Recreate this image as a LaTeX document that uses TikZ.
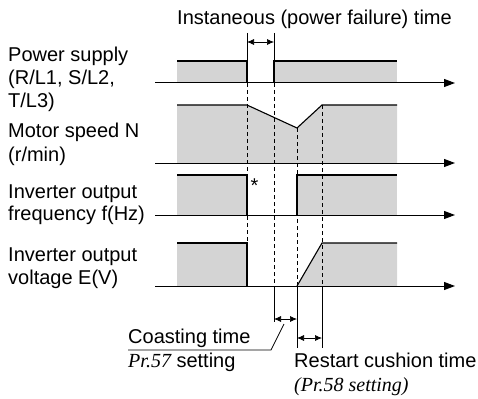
\documentclass[tikz,border=0pt]{standalone}
\usepackage{fontspec}
\setmainfont{Liberation Sans}
\newfontfamily\tnr{Liberation Serif}
\usetikzlibrary{arrows.meta}
\definecolor{fillgray}{RGB}{212,212,212}
\begin{document}
\begin{tikzpicture}[x=1pt,y=-1pt,
  lbl/.style={anchor=base west,inner sep=0pt,font=\fontsize{20}{23}\selectfont},
  sig/.style={line width=1.1pt},
  axisline/.style={line width=1pt,-{Triangle[length=11pt,width=8pt]}},
  guide/.style={line width=0.7pt,dash pattern=on 4pt off 3pt},
  thinline/.style={line width=0.7pt},
  dimarrow/.style={line width=0.7pt,{Latex[length=7pt,width=6pt]}-{Latex[length=7pt,width=6pt]}},
  box/.style={fill=fillgray}]
\useasboundingbox (0,0) rectangle (478,398);

% ---- fills
\fill[box] (177,61) rectangle (247,83);
\fill[box] (274,61) rectangle (397,83);
\fill[box] (177,105) -- (247,105) -- (297,128) -- (322,105) -- (397,105) -- (397,163) -- (177,163) -- cycle;
\fill[box] (177,175) rectangle (247,215);
\fill[box] (297,175) rectangle (397,215);
\fill[box] (177,243) rectangle (247,286);
\fill[box] (297,286) -- (322,243) -- (397,243) -- (397,286) -- cycle;

% ---- key time coordinates
\coordinate (t1a) at (247,83);  \coordinate (t1b) at (247,243);
\coordinate (t2a) at (274,83);  \coordinate (t2b) at (274,286); \coordinate (t2c) at (274,322);
\coordinate (t3a) at (297,128); \coordinate (t3b) at (297,286); \coordinate (t3c) at (297,348);
\coordinate (t4a) at (322,105); \coordinate (t4b) at (322,286); \coordinate (t4c) at (322,348);

% ---- dashed guides
\draw[guide] (t1a) -- (t1b);
\draw[guide] (t2a) -- (t2b);
\draw[guide] (t3a) -- (t3b);
\draw[guide] (t4a) -- (t4b);

% ---- signals
\draw[sig] (177,61) -- (247,61) -- (247,83);
\draw[sig] (274,83) -- (274,61) -- (397,61);
\draw[sig] (177,105) -- (247,105) -- (t3a) -- (t4a) -- (397,105);
\draw[sig] (177,175) -- (247,175) -- (247,215);
\draw[sig] (297,215) -- (297,175) -- (397,175);
\draw[sig] (177,243) -- (247,243) -- (247,286);
\draw[sig] (t3b) -- (322,243) -- (397,243);

% ---- axes
\coordinate (a0) at (155,83);  \coordinate (a1) at (455,83);
\coordinate (b0) at (155,163); \coordinate (b1) at (455,163);
\coordinate (c0) at (155,215); \coordinate (c1) at (455,215);
\coordinate (d0) at (155,286); \coordinate (d1) at (455,286);
\draw[axisline] (a0) -- (a1);
\draw[axisline] (b0) -- (b1);
\draw[axisline] (c0) -- (c1);
\draw[axisline] (d0) -- (d1);

% ---- dimension lines
\coordinate (p1) at (247,33); \coordinate (p2) at (274,33);
\draw[thinline] (p1) -- (247,61);
\draw[thinline] (p2) -- (274,61);
\draw[dimarrow] (247,42) -- (274,42);
\draw[thinline] (t2b) -- (t2c);
\draw[thinline] (t3b) -- (t3c);
\draw[thinline] (t4b) -- (t4c);
\draw[dimarrow] (274,319) -- (297,319);
\draw[dimarrow] (297,338) -- (322,338);
\coordinate (l0) at (284,324); \coordinate (l1) at (271,350); \coordinate (l2) at (128,350);
\draw[thinline] (l0) -- (l1) -- (l2);

% ---- texts
\node[lbl] (title) at (177,25) {Instaneous (power failure) time};
\node[lbl] (ps1) at (8,62) {Power supply};
\node[lbl] (ps2) at (8,85) {(R/L1, S/L2,};
\node[lbl] (ps3) at (8,108) {T/L3)};
\node[lbl] (ms1) at (8,138) {Motor speed N};
\node[lbl] (ms2) at (8,161) {(r/min)};
\node[lbl] (if1) at (8,198) {Inverter output};
\node[lbl] (if2) at (8,220) {frequency f(Hz)};
\node[lbl] (iv1) at (8,261) {Inverter output};
\node[lbl] (iv2) at (8,284) {voltage E(V)};
\node[lbl] (star) at (250.5,192) {*};
\node[lbl] (ct1) at (128,343) {Coasting time};
\node[lbl] (ct2) at (128,367) {{\tnr\itshape Pr.57} setting};
\node[lbl] (rc1) at (294,367) {Restart cushion time};
\node[lbl] (rc2) at (294,391) {\tnr\itshape (Pr.58 setting)};
\end{tikzpicture}
\end{document}
